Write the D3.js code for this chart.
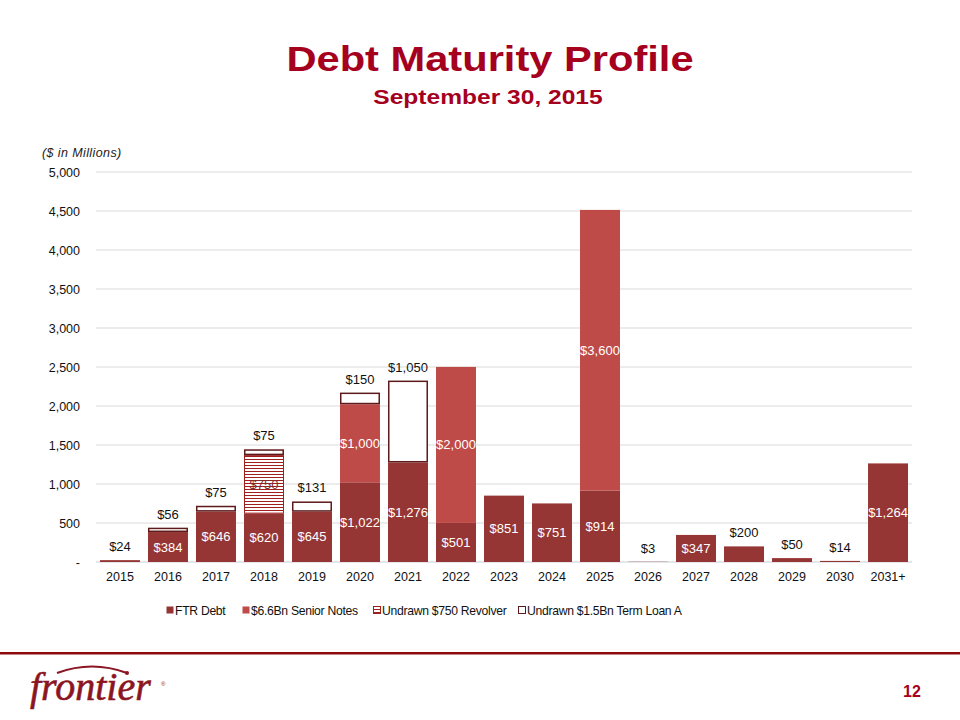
<!DOCTYPE html>
<html>
<head>
<meta charset="utf-8">
<script src="https://cdn.jsdelivr.net/npm/d3@7"></script>
<style>
  body { margin: 0; background: #fff; }
  svg { display: block; font-family: "Liberation Sans", Arial, sans-serif; }
</style>
</head>
<body>
<svg id="chart" width="960" height="720"></svg>
<script>
const categories = ["2015","2016","2017","2018","2019","2020","2021","2022","2023","2024","2025","2026","2027","2028","2029","2030","2031+"];
const ftrDebt     = [24, 384, 646, 620, 645, 1022, 1276, 501, 851, 751, 914, 3, 347, 200, 50, 14, 1264];
const seniorNotes = [0, 0, 0, 0, 0, 1000, 0, 2000, 0, 0, 3600, 0, 0, 0, 0, 0, 0];
const revolver    = [0, 0, 0, 750, 0, 0, 0, 0, 0, 0, 0, 0, 0, 0, 0, 0, 0];
const termLoanA   = [0, 56, 75, 75, 131, 150, 1050, 0, 0, 0, 0, 0, 0, 0, 0, 0, 0];
const yTicks = [0, 500, 1000, 1500, 2000, 2500, 3000, 3500, 4000, 4500, 5000];
const seriesNames = ["FTR Debt", "$6.6Bn Senior Notes", "Undrawn $750 Revolver", "Undrawn $1.5Bn Term Loan A"];

const C_FTR = "#963634", C_SN = "#BF4B48", C_BORDER = "#5E1A1A", C_RED = "#A5001E";

const svg = d3.select("#chart");
const defs = svg.append("defs");
const pat = defs.append("pattern").attr("id", "hatch").attr("patternUnits", "userSpaceOnUse")
  .attr("width", 6).attr("height", 3);
pat.append("rect").attr("width", 6).attr("height", 3).attr("fill", "#fff");
pat.append("rect").attr("y", 0).attr("width", 6).attr("height", 1).attr("fill", "#A01E1E");

// Title (glyphs horizontally widened like the reference)
svg.append("g").attr("transform", "translate(490,71) scale(1.19,1)")
  .append("text").attr("text-anchor", "middle")
  .attr("font-size", 35).attr("font-weight", "bold").attr("fill", C_RED).text("Debt Maturity Profile");
svg.append("g").attr("transform", "translate(488,104) scale(1.17,1)")
  .append("text").attr("text-anchor", "middle")
  .attr("font-size", 21).attr("font-weight", "bold").attr("fill", C_RED).text("September 30, 2015");

const x = d3.scaleBand().domain(categories).range([96, 912]).paddingInner(0.167).paddingOuter(0.083);
const y = d3.scaleLinear().domain([0, 5000]).range([562, 172]);

svg.append("text").attr("x", 42).attr("y", 157).attr("font-size", 12.5).attr("font-style", "italic")
  .attr("letter-spacing", 0.4).attr("fill", "#222").text("($ in Millions)");

// gridlines
svg.append("g").selectAll("line").data(yTicks).join("line")
  .attr("x1", 96).attr("x2", 912).attr("y1", d => y(d)).attr("y2", d => y(d))
  .attr("stroke", d => d === 0 ? "#C8CDD6" : "#D9D9D9").attr("stroke-width", 1);

// y axis labels
const yAxis = d3.axisLeft(y).tickValues(yTicks).tickSize(0).tickPadding(0)
  .tickFormat(d => d === 0 ? "-" : d3.format(",")(d));
const gy = svg.append("g").attr("transform", "translate(80,0)").call(yAxis);
gy.select(".domain").remove();
gy.selectAll("text").attr("font-size", 12.5).attr("fill", "#111").attr("font-family", "Liberation Sans, Arial, sans-serif");

// x axis labels
const xAxis = d3.axisBottom(x).tickSize(0).tickPadding(0);
const gx = svg.append("g").attr("transform", "translate(0,572)").call(xAxis);
gx.select(".domain").remove();
gx.selectAll("text").attr("font-size", 12.5).attr("fill", "#111").attr("font-family", "Liberation Sans, Arial, sans-serif");

// stacked bars
const rows = categories.map((c, i) => ({ c, ftr: ftrDebt[i], sn: seniorNotes[i], rv: revolver[i], tl: termLoanA[i] }));
const g = svg.append("g");
rows.forEach(r => {
  const bx = x(r.c), bw = x.bandwidth();
  let base = 0;
  g.append("rect").attr("x", bx).attr("width", bw).attr("y", y(r.ftr)).attr("height", y(0) - y(r.ftr)).attr("fill", C_FTR);
  base = r.ftr;
  if (r.sn > 0) {
    g.append("rect").attr("x", bx).attr("width", bw).attr("y", y(base + r.sn)).attr("height", y(base) - y(base + r.sn)).attr("fill", C_SN);
    base += r.sn;
  }
  if (r.rv > 0) {
    g.append("rect").attr("x", bx + 0.5).attr("width", bw - 1).attr("y", y(base + r.rv) + 0.5).attr("height", y(base) - y(base + r.rv) - 1)
      .attr("fill", "url(#hatch)").attr("stroke", "#A01E1E").attr("stroke-width", 1);
    base += r.rv;
  }
  if (r.tl > 0) {
    g.append("rect").attr("x", bx + 0.75).attr("width", bw - 1.5).attr("y", y(base + r.tl) + 0.75).attr("height", y(base) - y(base + r.tl) - 1.5)
      .attr("fill", "#fff").attr("stroke", C_BORDER).attr("stroke-width", 1.5);
    base += r.tl;
  }
});

// labels
const lab = svg.append("g").attr("font-size", 13).attr("text-anchor", "middle");
const fmt = v => "$" + d3.format(",")(v);
rows.forEach(r => {
  const cx = x(r.c) + x.bandwidth() / 2;
  if (r.ftr >= 300) {
    lab.append("text").attr("x", cx).attr("y", (y(0) + y(r.ftr)) / 2 + 4.5).attr("fill", "#fff").text(fmt(r.ftr));
  } else {
    lab.append("text").attr("x", cx).attr("y", y(r.ftr) - 9).attr("fill", "#111").text(fmt(r.ftr));
  }
  let base = r.ftr;
  if (r.sn > 0) {
    lab.append("text").attr("x", cx).attr("y", (y(base) + y(base + r.sn)) / 2 + 4.5).attr("fill", "#fff").text(fmt(r.sn));
    base += r.sn;
  }
  if (r.rv > 0) {
    lab.append("text").attr("x", cx).attr("y", (y(base) + y(base + r.rv)) / 2 + 4.5).attr("fill", "#7A3030").text(fmt(r.rv));
    base += r.rv;
  }
  if (r.tl > 0) {
    lab.append("text").attr("x", cx).attr("y", y(base + r.tl) - 9).attr("fill", "#111").text(fmt(r.tl));
  }
});

// legend
const legendItems = [
  { name: seriesNames[0], x: 166, fill: C_FTR, stroke: "none" },
  { name: seriesNames[1], x: 242, fill: C_SN, stroke: "none" },
  { name: seriesNames[2], x: 373, fill: "url(#hatch)", stroke: "#A01E1E" },
  { name: seriesNames[3], x: 518, fill: "#fff", stroke: C_BORDER }
];
const lg = svg.append("g");
legendItems.forEach(it => {
  lg.append("rect").attr("x", it.x + 0.5).attr("y", 606.5).attr("width", 7).attr("height", 7)
    .attr("fill", it.fill).attr("stroke", it.stroke).attr("stroke-width", 1);
  lg.append("text").attr("x", it.x + 9).attr("y", 615).attr("font-size", 12.2).attr("letter-spacing", -0.3)
    .attr("fill", "#111").text(it.name);
});

// footer line
svg.append("rect").attr("x", 0).attr("y", 652).attr("width", 960).attr("height", 2.5).attr("fill", "#8E0A0A");

// logo
const logo = svg.append("g");
logo.append("path").attr("d", "M57,673 Q92,660 127,673").attr("fill", "none").attr("stroke", "#8B1522").attr("stroke-width", 2);
logo.append("circle").attr("cx", 127).attr("cy", 673).attr("r", 2).attr("fill", "#8B1522");
logo.append("text").attr("x", 30).attr("y", 700).attr("font-family", "Liberation Serif, serif").attr("font-style", "italic")
  .attr("font-size", 40).attr("fill", "#8B1522").attr("stroke", "#8B1522").attr("stroke-width", 0.6).text("frontier");
logo.append("text").attr("x", 161).attr("y", 686).attr("font-size", 6).attr("fill", "#8B1522").text("®");

// page number
svg.append("text").attr("x", 912).attr("y", 697).attr("text-anchor", "middle").attr("font-size", 16)
  .attr("font-weight", "bold").attr("fill", C_RED).text("12");
</script>
</body>
</html>
